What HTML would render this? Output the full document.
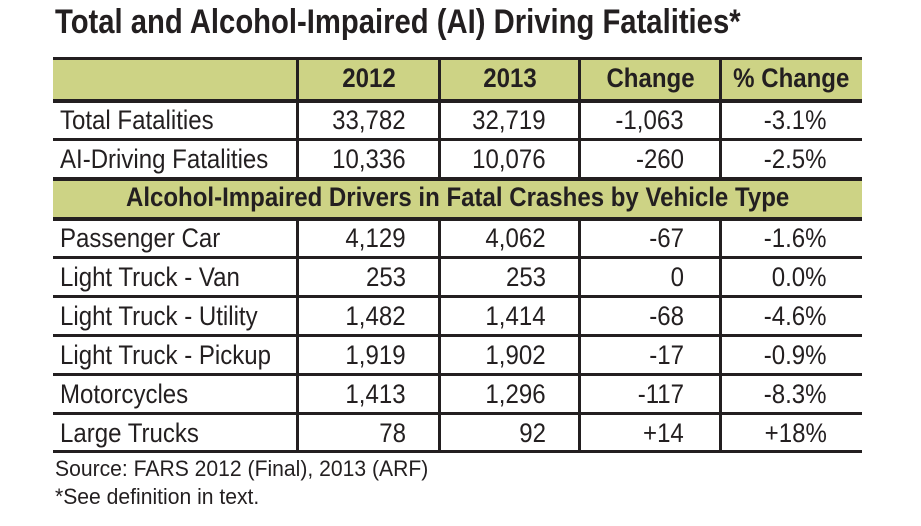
<!DOCTYPE html>
<html><head><meta charset="utf-8"><style>
body{margin:0;width:921px;height:526px;background:#fff;position:relative;overflow:hidden;font-family:"Liberation Sans Narrow","Liberation Sans",sans-serif;color:#231f20}
.t{position:absolute;white-space:nowrap}
.hl{position:absolute;left:53px;width:809px;background:#231f20}
.vl{position:absolute;width:3px;background:#231f20}
.bg{position:absolute;left:53px;width:809px;background:#cdd385}
.c{position:absolute;font-size:27px;line-height:39px;white-space:nowrap}
.c span{display:inline-block;transform:scaleX(.89)}
</style></head><body>
<div class="t" style="left:55px;top:2px;font-size:34px;font-weight:bold;line-height:40px;transform:scaleX(.86);transform-origin:left">Total and Alcohol-Impaired (AI) Driving Fatalities*</div>
<div class="bg" style="top:57px;height:43px"></div>
<div class="bg" style="top:178px;height:40px"></div>
<div id="tbl"></div>
<div class="t" style="left:55px;top:456px;font-size:22px;font-family:'Liberation Sans',sans-serif;transform:scaleX(.96);transform-origin:left">Source: FARS 2012 (Final), 2013 (ARF)</div>
<div class="t" style="left:55px;top:484px;font-size:22px;font-family:'Liberation Sans',sans-serif;transform:scaleX(.96);transform-origin:left">*See definition in text.</div>
<script>
const headers=["2012","2013","Change","% Change"];
const labels=["Total Fatalities","AI-Driving Fatalities","Passenger Car","Light Truck - Van","Light Truck - Utility","Light Truck - Pickup","Motorcycles","Large Trucks"];
const v2012=["33,782","10,336","4,129","253","1,482","1,919","1,413","78"];
const v2013=["32,719","10,076","4,062","253","1,414","1,902","1,296","92"];
const vchg=["-1,063","-260","-67","0","-68","-17","-117","+14"];
const vpct=["-3.1%","-2.5%","-1.6%","0.0%","-4.6%","-0.9%","-8.3%","+18%"];
const tops=[100,139,218,257,296,335,374,413];
const T=document.getElementById('tbl');
function add(cls,style,text,name,origin){const d=document.createElement('div');d.className=cls;d.style.cssText=style;
if(text!=null){const s=document.createElement('span');s.textContent=text;s.style.transformOrigin=origin||'left';d.appendChild(s);}


T.appendChild(d);}
[[57,3],[99,4],[138,3],[177,4],[217,4],[256,3],[295,3],[334,3],[373,3],[412,3],[450,3]].forEach((l,i)=>add('hl','top:'+l[0]+'px;height:'+l[1]+'px',null,'row-line-'+i));
[296,438,578,719].forEach((x,i)=>{add('vl','left:'+x+'px;top:58px;height:120px',null,'col-line-top-'+i);add('vl','left:'+x+'px;top:218px;height:234px',null,'col-line-bottom-'+i);});
const hx=[[298,142],[440,140],[580,141],[721,141]];
headers.forEach((h,i)=>add('c','left:'+hx[i][0]+'px;width:'+hx[i][1]+'px;top:59px;text-align:center;font-weight:bold',h,'header-'+h.toLowerCase().replace(/[^a-z0-9]+/g,'-'),'center'));
add('c','left:53px;width:809px;top:178px;text-align:center;font-weight:bold','Alcohol-Impaired Drivers in Fatal Crashes by Vehicle Type','section-header','center');
labels.forEach((lab,i)=>{const y=tops[i]+1;
add('c','left:60px;top:'+y+'px',lab,'row-label','left');
add('c','left:298px;width:108px;top:'+y+'px;text-align:right',v2012[i],'value-2012','right');
add('c','left:440px;width:106px;top:'+y+'px;text-align:right',v2013[i],'value-2013','right');
add('c','left:580px;width:104px;top:'+y+'px;text-align:right',vchg[i],'value-change','right');
add('c','left:721px;width:106px;top:'+y+'px;text-align:right',vpct[i],'value-pct-change','right');
});
</script>
</body></html>
